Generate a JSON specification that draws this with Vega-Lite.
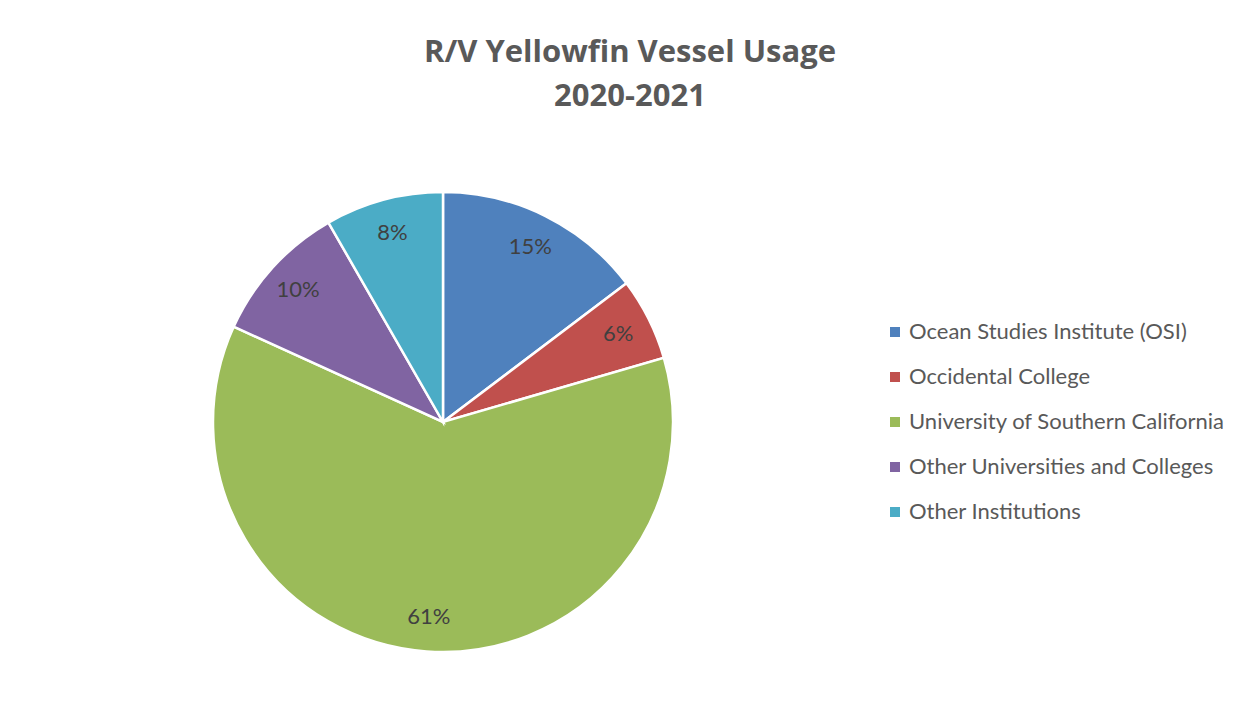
{
  "$schema": "https://vega.github.io/schema/vega-lite/v6.json",
  "width": 866,
  "height": 584,
  "autosize": {"type": "none"},
  "padding": {"left": 10, "top": 130, "right": 374, "bottom": 1},
  "background": "white",
  "title": {
    "text": ["R/V Yellowfin Vessel Usage", "2020-2021"],
    "anchor": "start",
    "align": "center",
    "dx": 620,
    "offset": 17,
    "fontSize": 31,
    "font": "Open Sans",
    "fontWeight": "bold",
    "color": "#595959",
    "lineHeight": 44
  },
  "config": {"view": {"stroke": null}},
  "data": {
    "values": [
      {"institution": "Ocean Studies Institute (OSI)", "idx": 1, "share": 14.7, "label": "15%"},
      {"institution": "Occidental College", "idx": 2, "share": 5.8, "label": "6%"},
      {"institution": "University of Southern California", "idx": 3, "share": 61.3, "label": "61%"},
      {"institution": "Other Universities and Colleges", "idx": 4, "share": 9.9, "label": "10%"},
      {"institution": "Other Institutions", "idx": 5, "share": 8.3, "label": "8%"}
    ]
  },
  "encoding": {
    "theta": {"field": "share", "type": "quantitative", "stack": true},
    "order": {"field": "idx", "type": "quantitative"}
  },
  "layer": [
    {
      "mark": {"type": "arc", "outerRadius": 230, "stroke": "white", "strokeWidth": 2.5},
      "encoding": {
        "color": {
          "field": "institution",
          "type": "nominal",
          "scale": {
            "domain": ["Ocean Studies Institute (OSI)", "Occidental College", "University of Southern California", "Other Universities and Colleges", "Other Institutions"],
            "range": ["#4F81BD", "#C0504D", "#9BBB59", "#8064A2", "#4BACC6"]
          },
          "legend": {
            "orient": "none",
            "legendX": 874,
            "legendY": 191,
            "title": null,
            "symbolType": "square",
            "symbolSize": 100,
            "symbolStrokeWidth": 0,
            "labelFontSize": 22,
            "labelFont": "Lato",
            "labelColor": "#595959",
            "labelLimit": 400,
            "rowPadding": 23,
            "labelOffset": 3
          }
        }
      }
    },
    {
      "mark": {"type": "text", "radius": 196, "fontSize": 22, "font": "Lato", "fill": "#404040"},
      "encoding": {
        "text": {"field": "label"},
        "detail": {"field": "institution"}
      }
    }
  ]
}
